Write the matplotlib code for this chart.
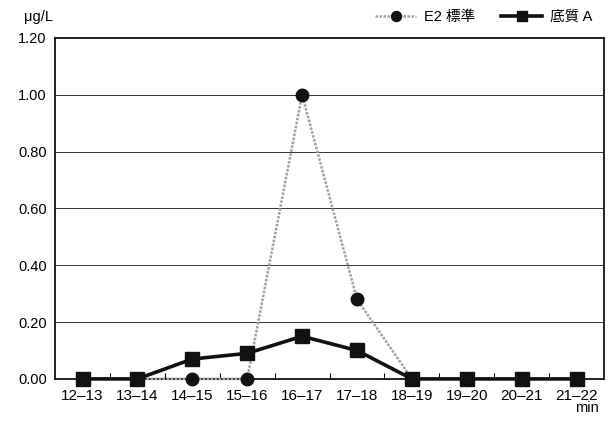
import matplotlib
matplotlib.use('Agg')
import matplotlib.pyplot as plt
import numpy as np

plt.rcParams['font.family'] = ['Liberation Sans', 'Noto Sans CJK JP', 'DejaVu Sans']

# Dados
categorias = ['12–13', '13–14', '14–15', '15–16', '16–17',
              '17–18', '18–19', '19–20', '20–21', '21–22']
e2_padrao = [0.0, 0.0, 0.0, 0.0, 1.00, 0.28, 0.0, np.nan, np.nan, np.nan]
sedimento_a = [0.0, 0.0, 0.07, 0.09, 0.15, 0.10, 0.0, 0.0, 0.0, 0.0]
yticks = [0.0, 0.2, 0.4, 0.6, 0.8, 1.0, 1.2]

fig = plt.figure(figsize=(6.12, 4.21), dpi=100)
ax = fig.add_axes([0.090, 0.100, 0.897, 0.810])

x = np.arange(len(categorias))

# Grade horizontal
for v in yticks[1:-1]:
    ax.axhline(v, color='#333333', lw=0.7, zorder=0)

ax.plot(x, e2_padrao, color='#a0a0a0', lw=1.8, ls=(0, (1, 0.6)),
        marker='o', ms=9, mfc='#111111', mec='#111111', label='E2 標準',
        zorder=2, clip_on=False)
ax.plot(x, sedimento_a, color='#111111', lw=2.6,
        marker='s', ms=9.5, mfc='#111111', mec='#111111', label='底質 A',
        zorder=3, clip_on=False)

ax.set_xlim(-0.5, len(categorias) - 0.5)
ax.set_ylim(0, 1.2)
ax.set_yticks(yticks)
ax.set_yticklabels([f'{v:.2f}' for v in yticks], fontsize=10.5)
ax.set_xticks(x)
ax.set_xticklabels(categorias, fontsize=11)
ax.set_xticks(np.arange(0.5, len(categorias) - 1, 1), minor=True)
ax.tick_params(axis='x', which='major', length=0, pad=7)
ax.tick_params(axis='x', which='minor', direction='in', length=4, width=0.8)
ax.tick_params(axis='y', length=0, pad=6)

for s in ax.spines.values():
    s.set_linewidth(1.3)
    s.set_color('#111111')
    s.set_zorder(1)

fig.text(0.040, 0.960, 'μg/L', fontsize=10.5, ha='left', va='center')
fig.text(0.978, 0.030, 'min', fontsize=10.5, ha='right', va='center')

ax.legend(loc='center right', bbox_to_anchor=(0.990, 1.062), ncol=2, frameon=False,
          fontsize=10.5, handlelength=2.8, columnspacing=1.8, handletextpad=0.55,
          markerscale=0.8, borderaxespad=0)

fig.savefig('out.png', dpi=100)
